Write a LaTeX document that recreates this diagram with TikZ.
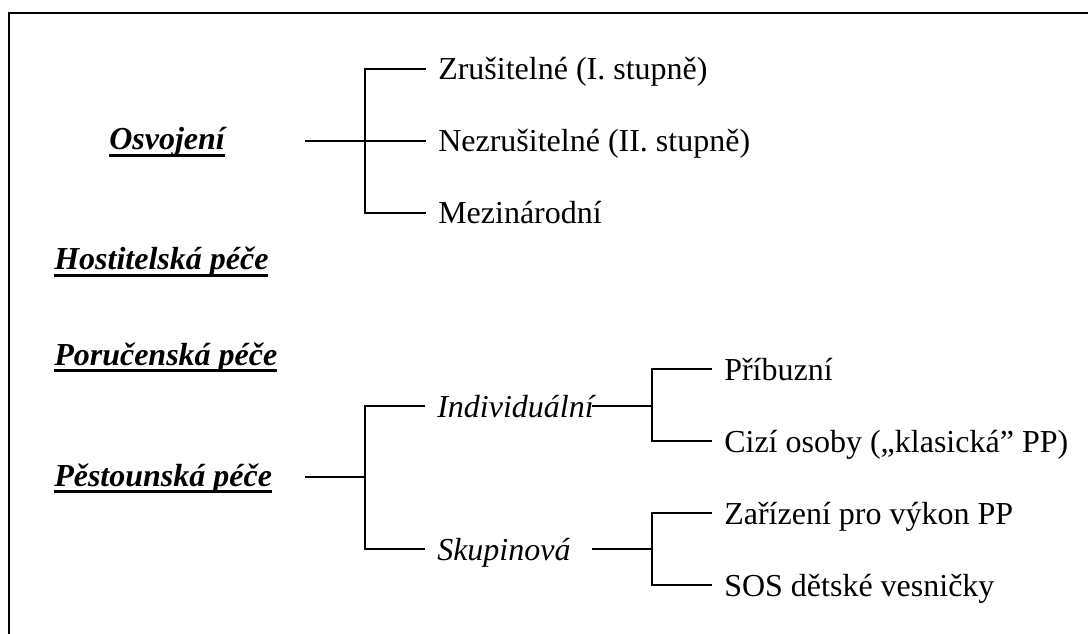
\documentclass[tikz,border=0pt]{standalone}
\usepackage{fontspec}
\setmainfont{Liberation Serif}
\newcommand{\hdul}[1]{\setbox0=\hbox{#1}\rlap{\vrule height -3.3pt depth 5.6pt width \wd0}\box0}

\begin{document}
\begin{tikzpicture}[x=0.75pt, y=-0.75pt,
head/.style={anchor=base west, inner sep=0pt, font=\fontsize{24}{29}\selectfont\bfseries\itshape},
item/.style={anchor=west, inner xsep=9pt, inner ysep=0pt, text height=22.5pt, text depth=6pt, font=\fontsize{24}{29}\selectfont},
sub/.style={item, font=\fontsize{24}{29}\selectfont\itshape},
link/.style={line width=1.4pt}
]
  \useasboundingbox (0,0) rectangle (1088,634);
  \draw[line width=2pt] (9,634) -- (9,13) -- (1088,13);

  \node[head] (osv) at (109,150) {\hdul{Osvojení}};
  \node[head] (host) at (54,270) {\hdul{Hostitelská péče}};
  \node[head] (por) at (54,365) {\hdul{Poručenská péče}};
  \node[head] (pest) at (54,486) {\hdul{Pěstounská péče}};

  \coordinate (osvS) at (305,141);
  \coordinate (osvJ) at (365,141);
  \node[item] (zrus) at (426,69) {Zrušitelné (I. stupně)};
  \node[item] (nezrus) at (426,141) {Nezrušitelné (II. stupně)};
  \node[item] (mezi) at (426,213) {Mezinárodní};

  \coordinate (pestS) at (305,477);
  \coordinate (pestJ) at (365,477);
  \node[sub] (indiv) at (425,406) {Individuální};
  \node[sub] (skup) at (425,549) {Skupinová};
  \coordinate (indivE) at (592,406);
  \coordinate (indivJ) at (652,406);
  \coordinate (skupE) at (592,549);
  \coordinate (skupJ) at (652,549);

  \node[item] (pribuz) at (712,369) {Příbuzní};
  \node[item] (cizi) at (712,441) {Cizí osoby („klasická” PP)};
  \node[item] (zariz) at (712,513) {Zařízení pro výkon PP};
  \node[item] (sos) at (712,585) {SOS dětské vesničky};

  \draw[link] (osvS) -- (nezrus)
        (zrus) -| (osvJ) |- (mezi);

  \draw[link] (pestS) -- (pestJ)
        (indiv) -| (pestJ) |- (skup)
        (indivE) -- (indivJ)
        (pribuz) -| (indivJ) |- (cizi)
        (skupE) -- (skupJ)
        (zariz) -| (skupJ) |- (sos);
\end{tikzpicture}
\end{document}
